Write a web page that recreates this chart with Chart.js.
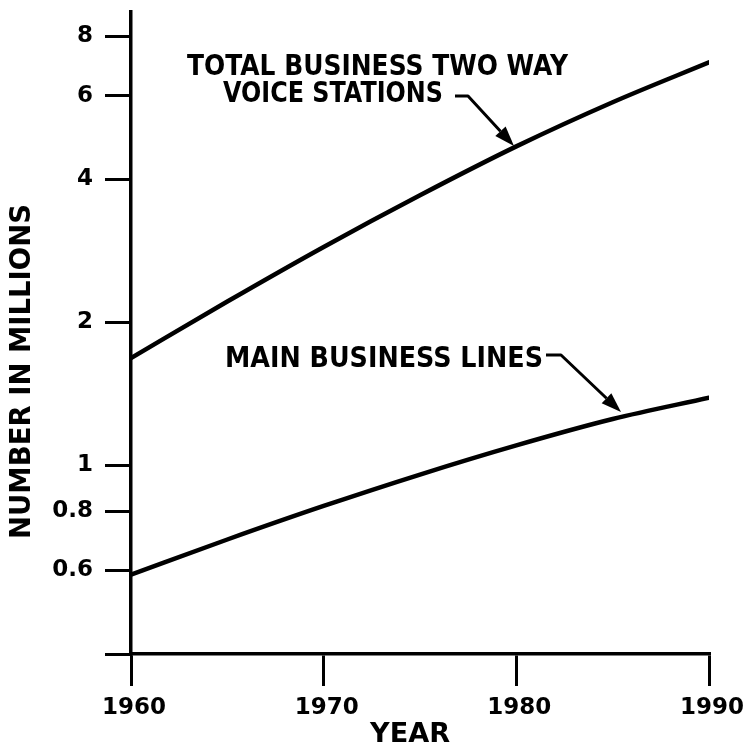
<!DOCTYPE html>
<html><head><meta charset="utf-8">
<script src="https://cdn.jsdelivr.net/npm/chart.js@4.4.1/dist/chart.umd.min.js"></script>
<style>html,body{margin:0;padding:0;background:#fff}#wrap{width:748px;height:743px}</style>
</head><body><div id="wrap"><canvas id="c" width="748" height="743"></canvas></div>
<script>
const years = [1960, 1965, 1970, 1975, 1980, 1985, 1990];
const totalVoiceStations = [1.68, 2.21, 2.88, 3.70, 4.69, 5.81, 7.05];
const mainBusinessLines = [0.588, 0.697, 0.820, 0.955, 1.100, 1.250, 1.386];
const yTickValues = [0.4, 0.6, 0.8, 1, 2, 4, 6, 8];
const yTickLabels = ['', '0.6', '0.8', '1', '2', '4', '6', '8'];
const xTickValues = [1960, 1970, 1980, 1990];
const xTickLabels = ['1960', '1970', '1980', '1990'];
const labelTotal1 = 'TOTAL BUSINESS TWO WAY';
const labelTotal2 = 'VOICE STATIONS';
const labelMain = 'MAIN BUSINESS LINES';
const xTitle = 'YEAR';
const yTitle = 'NUMBER IN MILLIONS';

const FONT = '"DejaVu Sans", "Liberation Sans", sans-serif';

function scaledText(ctx, text, x, y, width, size, align) {
  ctx.save();
  ctx.font = 'bold ' + size + 'px ' + FONT;
  ctx.fillStyle = '#000';
  const w = ctx.measureText(text).width;
  ctx.translate(x, y);
  ctx.scale(width / w, 1);
  ctx.textBaseline = 'alphabetic';
  ctx.textAlign = align || 'left';
  ctx.fillText(text, 0, 0);
  ctx.restore();
}
function arrow(ctx, pts) {
  ctx.save();
  ctx.strokeStyle = '#000'; ctx.fillStyle = '#000';
  ctx.lineWidth = 3; ctx.lineJoin = 'round'; ctx.lineCap = 'butt';
  const n = pts.length;
  const [tx, ty] = pts[n - 1], [px, py] = pts[n - 2];
  const ang = Math.atan2(ty - py, tx - px);
  const hl = 20, hw = 7;
  const bx = tx - hl * Math.cos(ang), by = ty - hl * Math.sin(ang);
  ctx.beginPath();
  ctx.moveTo(pts[0][0], pts[0][1]);
  for (let i = 1; i < n - 1; i++) ctx.lineTo(pts[i][0], pts[i][1]);
  ctx.lineTo(bx, by);
  ctx.stroke();
  ctx.beginPath();
  ctx.moveTo(tx, ty);
  ctx.lineTo(bx + hw * Math.sin(ang), by - hw * Math.cos(ang));
  ctx.lineTo(bx - hw * Math.sin(ang), by + hw * Math.cos(ang));
  ctx.closePath();
  ctx.fill();
  ctx.restore();
}

const annotations = {
  id: 'annotations',
  afterDraw(chart) {
    const ctx = chart.ctx;
    scaledText(ctx, labelTotal1, 187, 75, 381, 29);
    scaledText(ctx, labelTotal2, 223, 102, 220, 28);
    arrow(ctx, [[455, 96], [468, 96], [514, 146]]);
    scaledText(ctx, labelMain, 225, 367, 318, 28);
    arrow(ctx, [[546, 355], [561, 355], [621, 412]]);
    scaledText(ctx, xTitle, 370, 742, 80, 26);
    ctx.save();
    ctx.translate(30, 372);
    ctx.rotate(-Math.PI / 2);
    scaledText(ctx, yTitle, -167, 0, 335, 28);
    ctx.restore();
  }
};

const toPts = arr => years.map((x, i) => ({ x: x, y: arr[i] }));
const tickFont = { family: FONT, size: 23, weight: 'bold' };

new Chart(document.getElementById('c'), {
  type: 'line',
  data: {
    datasets: [
      { label: 'Total business two way voice stations', data: toPts(totalVoiceStations),
        borderColor: '#000', borderWidth: 4.5, pointRadius: 0, fill: false,
        cubicInterpolationMode: 'monotone', borderCapStyle: 'round' },
      { label: 'Main business lines', data: toPts(mainBusinessLines),
        borderColor: '#000', borderWidth: 4.5, pointRadius: 0, fill: false,
        cubicInterpolationMode: 'monotone', borderCapStyle: 'round' }
    ]
  },
  options: {
    responsive: false, animation: false, devicePixelRatio: 1,
    layout: { padding: { left: 0, right: 39, top: 12, bottom: 0 } },
    plugins: { legend: { display: false }, tooltip: { enabled: false } },
    scales: {
      x: {
        type: 'linear', min: 1960, max: 1990,
        afterBuildTicks: s => { s.ticks = xTickValues.map(v => ({ value: v })); },
        afterFit: s => { s.height = 89; s.paddingLeft = 0; s.paddingRight = 0; },
        ticks: { autoSkip: false, maxRotation: 0, font: tickFont, color: '#000', padding: 8,
          labelOffset: 3,
          callback: v => xTickLabels[xTickValues.indexOf(v)] },
        grid: { drawOnChartArea: false, drawTicks: true, tickLength: 32, tickColor: '#000', tickWidth: 3, color: '#000', lineWidth: 3 },
        border: { display: true, color: '#000', width: 3.5 }
      },
      y: {
        type: 'logarithmic', min: 0.4, max: 9,
        afterBuildTicks: s => { s.ticks = yTickValues.map(v => ({ value: v })); },
        afterFit: s => { s.width = 131; s.paddingTop = 0; s.paddingBottom = 0; },
        ticks: { autoSkip: false, font: tickFont, color: '#000', padding: 12,
          callback: v => yTickLabels[yTickValues.indexOf(v)] },
        grid: { drawOnChartArea: false, drawTicks: true, tickLength: 26, tickColor: '#000', tickWidth: 3, color: '#000', lineWidth: 3 },
        border: { display: true, color: '#000', width: 3.5 }
      }
    }
  },
  plugins: [annotations]
});
</script>
</body></html>
